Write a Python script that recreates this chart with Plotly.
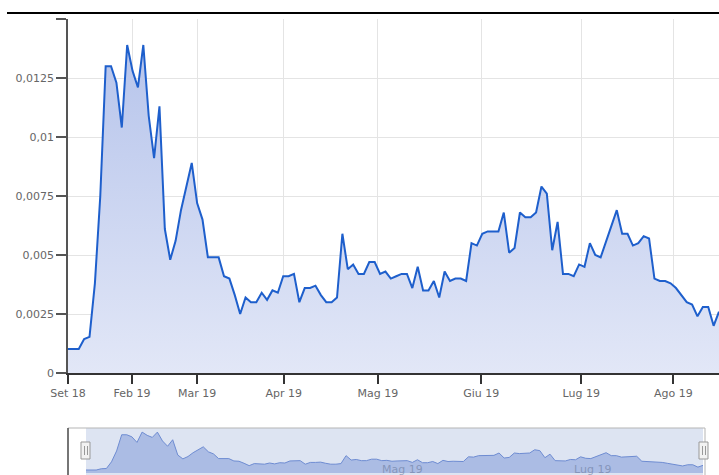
import plotly.graph_objects as go

# ---- data ----
values = [
    0.00102, 0.00102, 0.00102, 0.00144, 0.00153, 0.0038, 0.0075, 0.0130, 0.0130, 0.0123,
    0.0104, 0.0139, 0.0128, 0.0121, 0.0139, 0.0109, 0.0091, 0.0113, 0.0061, 0.0048,
    0.0056, 0.0069, 0.0079, 0.0089, 0.0072, 0.0065, 0.0049, 0.0049, 0.0049, 0.0041,
    0.0040, 0.0033, 0.0025, 0.0032, 0.0030, 0.0030, 0.0034, 0.0031, 0.0035, 0.0034,
    0.0041, 0.0041, 0.0042, 0.0030, 0.0036, 0.0036, 0.0037, 0.0033, 0.0030, 0.0030,
    0.0032, 0.0059, 0.0044, 0.0046, 0.0042, 0.0042, 0.0047, 0.0047, 0.0042, 0.0043,
    0.0040, 0.0041, 0.0042, 0.0042, 0.0036, 0.0045, 0.0035, 0.0035, 0.0039, 0.0032,
    0.0043, 0.0039, 0.0040, 0.0040, 0.0039, 0.0055, 0.0054, 0.0059, 0.0060, 0.0060,
    0.0060, 0.0068, 0.0051, 0.0053, 0.0068, 0.0066, 0.0066, 0.0068, 0.0079, 0.0076,
    0.0052, 0.0064, 0.0042, 0.0042, 0.0041, 0.0046, 0.0045, 0.0055, 0.0050, 0.0049,
    0.0056, 0.0062, 0.0069, 0.0059, 0.0059, 0.0054, 0.0055, 0.0058, 0.0057, 0.0040,
    0.0039, 0.0039, 0.0038, 0.0036, 0.0033, 0.0030, 0.0029, 0.0024, 0.0028, 0.0028,
    0.0020, 0.0026,
]
positions = list(range(len(values)))

tick_pos = [0, 11.9, 24.0, 40.1, 57.6, 76.8, 95.4, 112.5]
tick_labels = ["Set 18", "Feb 19", "Mar 19", "Apr 19", "Mag 19", "Giu 19", "Lug 19", "Ago 19"]

y_ticks = [0, 0.0025, 0.005, 0.0075, 0.01, 0.0125, 0.015]
y_labels = ["0", "0,0025", "0,005", "0,0075", "0,01", "0,0125", ""]

nav_label_pos = [57.6, 95.4]
nav_labels = ["Mag 19", "Lug 19"]

# ---- layout helpers (pixel -> paper) ----
W, H = 719, 475
ML, MR, MT, MB = 68, 0, 19, 0
PW, PH = W - ML - MR, H - MT - MB


def px(p):
    return (p - ML) / PW


def py(p):
    return (H - p) / PH


font = "DejaVu Sans"
txt = "#666666"

fig = go.Figure()

fig.add_trace(go.Scatter(
    x=positions, y=values, mode="lines",
    line=dict(color="#1e5fcc", width=2),
    fill="tozeroy",
    fillgradient=dict(type="vertical", start=0, stop=0.014,
                      colorscale=[[0, "rgb(226,231,247)"], [1, "rgb(182,196,235)"]]),
    xaxis="x", yaxis="y", hoverinfo="skip", showlegend=False,
))

fig.add_trace(go.Scatter(
    x=positions, y=values, mode="lines",
    line=dict(color="rgb(110,140,210)", width=1),
    fill="tozeroy", fillcolor="rgba(110,140,210,0.45)",
    xaxis="x2", yaxis="y2", hoverinfo="skip", showlegend=False,
))

nav_ppu = (703 - 86) / (len(values) - 1)
nav_range = [-(86 - 68) / nav_ppu, (len(values) - 1) + (705 - 703) / nav_ppu]

shapes = [
    # top black rule
    dict(type="line", xref="paper", yref="paper", x0=px(7), x1=px(719), y0=py(13), y1=py(13),
         line=dict(color="black", width=2), layer="above"),
    # navigator mask
    dict(type="rect", xref="paper", yref="paper", x0=px(86), x1=px(703), y0=py(476), y1=py(428),
         fillcolor="rgba(102,133,194,0.22)", line=dict(width=0), layer="below"),
    # navigator outline
    dict(type="rect", xref="paper", yref="paper", x0=px(68), x1=px(705), y0=py(476), y1=py(428),
         line=dict(color="#b5b5b5", width=1), layer="above"),
    dict(type="line", xref="paper", yref="paper", x0=px(68), x1=px(68), y0=py(476), y1=py(428),
         line=dict(color="#555555", width=1.5), layer="above"),
]
for hx in (86, 704):
    shapes.append(dict(type="rect", xref="paper", yref="paper",
                       x0=px(hx - 5), x1=px(hx + 4), y0=py(459), y1=py(442),
                       fillcolor="#f2f2f2", line=dict(color="#999999", width=1), layer="above"))
    for dx in (-1.5, 1.5):
        shapes.append(dict(type="line", xref="paper", yref="paper",
                           x0=px(hx + dx), x1=px(hx + dx), y0=py(455), y1=py(446),
                           line=dict(color="#999999", width=1), layer="above"))

annotations = [
    dict(x=p, y=0.0012, xref="x2", yref="y2", text=t, showarrow=False, xanchor="left",
         yanchor="middle", font=dict(family=font, size=11, color="rgba(100,115,150,0.55)"))
    for p, t in zip(nav_label_pos, nav_labels)
]

fig.update_layout(
    width=W, height=H,
    margin=dict(l=ML, r=MR, t=MT, b=MB, autoexpand=False),
    paper_bgcolor="white", plot_bgcolor="white",
    font=dict(family=font, size=11, color=txt),
    separators=",.",
    showlegend=False,
    xaxis=dict(
        domain=[0, 1], range=[0, len(values) - 1], anchor="y", automargin=False,
        tickvals=tick_pos, ticktext=tick_labels,
        showgrid=True, gridcolor="#e4e4e4", gridwidth=1,
        showline=True, linecolor="#333333", linewidth=1.5,
        ticks="outside", ticklen=9, tickcolor="#333333", tickwidth=1.5,
        tickfont=dict(family=font, size=11, color=txt),
        zeroline=False, fixedrange=True,
    ),
    yaxis=dict(
        domain=[py(373), 1], range=[0, 0.015], anchor="x", automargin=False,
        tickvals=y_ticks, ticktext=y_labels,
        showgrid=True, gridcolor="#e4e4e4", gridwidth=1,
        showline=True, linecolor="#555555", linewidth=1.5,
        ticks="outside", ticklen=10, tickcolor="#555555", tickwidth=1.5,
        tickfont=dict(family=font, size=11, color=txt),
        zeroline=False, fixedrange=True,
    ),
    xaxis2=dict(
        domain=[0, px(705)], range=nav_range, anchor="y2", automargin=False,
        showticklabels=False, showgrid=False, zeroline=False, showline=False, ticks="",
    ),
    yaxis2=dict(
        domain=[py(473), py(428)], range=[0, 0.0153], anchor="x2", automargin=False,
        showticklabels=False, showgrid=False, zeroline=False, showline=False, ticks="",
    ),
    shapes=shapes,
    annotations=annotations,
)

fig.write_html(
    "out.html",
    config={"displayModeBar": False},
    post_script="document.body.style.margin='0';document.body.style.overflow='hidden';",
)
